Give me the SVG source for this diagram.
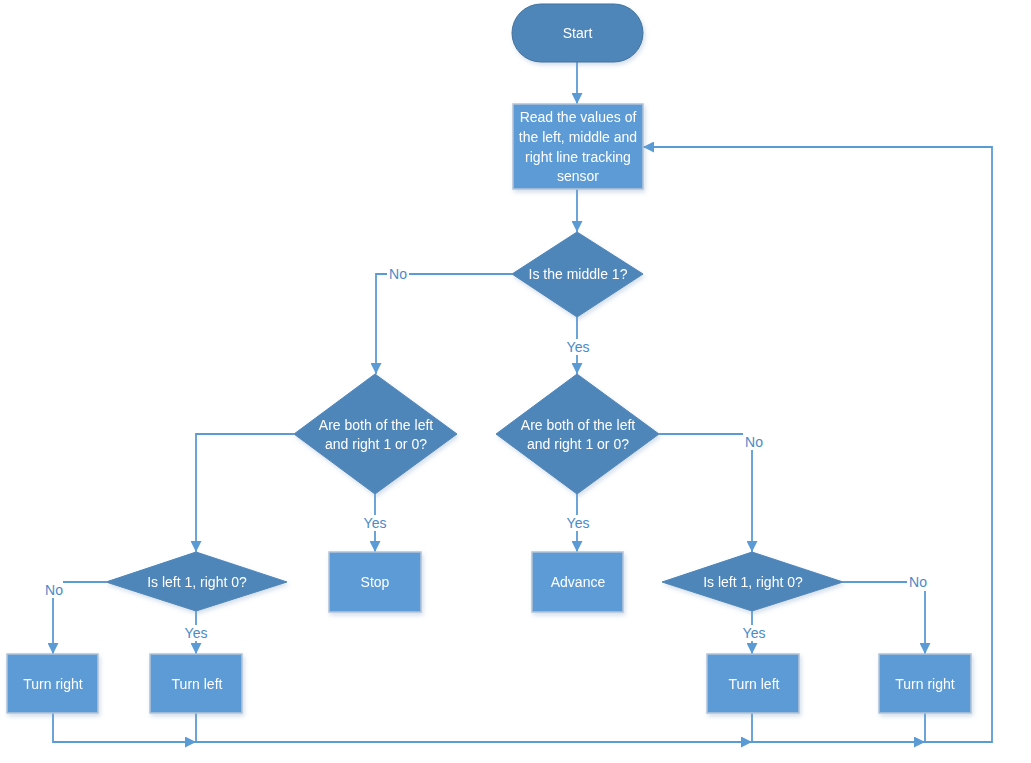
<svg xmlns="http://www.w3.org/2000/svg" width="1031" height="763" viewBox="0 0 1031 763">
<style>
.term{fill:#4f86ba;stroke:#41719c;stroke-width:1}
.dec{fill:#4f86ba;stroke:#4f86ba;stroke-width:1}
.proc{fill:#5b9bd5;stroke:#b4c4d6;stroke-width:1.5}
.t{font-family:"Liberation Sans",Arial,sans-serif;font-size:14px;fill:#ffffff;text-anchor:middle;dominant-baseline:central}
.lbl{font-family:"Liberation Sans",Arial,sans-serif;font-size:14px;fill:#4a8ac8;text-anchor:middle;dominant-baseline:central}
.c{fill:none;stroke:#5b9bd5;stroke-width:1.8}
.bg{fill:#ffffff}
</style>
<defs>
<marker id="ah" viewBox="0 0 10 10" refX="10" refY="5" markerWidth="11" markerHeight="11" markerUnits="userSpaceOnUse" orient="auto">
<path d="M0,0 L10,5 L0,10 Z" fill="#5b9bd5"/>
</marker>
<filter id="sh" x="-10%" y="-10%" width="130%" height="140%">
<feDropShadow dx="1.5" dy="2.5" stdDeviation="2" flood-color="#7f9fc0" flood-opacity="0.35"/>
</filter>
</defs>
<rect width="1031" height="763" fill="#ffffff"/>

<g id="connectors">
<path class="c" d="M577,62 V104" marker-end="url(#ah)"/>
<path class="c" d="M577,189 V232" marker-end="url(#ah)"/>
<path class="c" d="M512,274 H376 V374" marker-end="url(#ah)"/>
<path class="c" d="M577,317 V374" marker-end="url(#ah)"/>
<path class="c" d="M294,434 H196 V552" marker-end="url(#ah)"/>
<path class="c" d="M375,494 V552" marker-end="url(#ah)"/>
<path class="c" d="M577,494 V552" marker-end="url(#ah)"/>
<path class="c" d="M659,434 H752 V552" marker-end="url(#ah)"/>
<path class="c" d="M106,582 H53 V654" marker-end="url(#ah)"/>
<path class="c" d="M196,611 V654" marker-end="url(#ah)"/>
<path class="c" d="M843,582 H925 V654" marker-end="url(#ah)"/>
<path class="c" d="M752,611 V654" marker-end="url(#ah)"/>
<path class="c" d="M53,713 V742 H196" marker-end="url(#ah)"/>
<path class="c" d="M196,713 V742 H752" marker-end="url(#ah)"/>
<path class="c" d="M752,713 V742 H925" marker-end="url(#ah)"/>
<path class="c" d="M925,713 V742 H992 V147 H643" marker-end="url(#ah)"/>
<rect class="bg" x="387" y="266" width="22" height="16"/>
<text class="lbl" x="398" y="274">No</text>
<rect class="bg" x="564" y="339" width="28" height="16"/>
<text class="lbl" x="578" y="347">Yes</text>
<rect class="bg" x="362" y="515" width="28" height="16"/>
<text class="lbl" x="375" y="523">Yes</text>
<rect class="bg" x="564" y="515" width="28" height="16"/>
<text class="lbl" x="578" y="523">Yes</text>
<rect class="bg" x="743" y="433" width="22" height="17"/>
<text class="lbl" x="754" y="442">No</text>
<rect class="bg" x="40" y="576" width="23" height="22"/>
<text class="lbl" x="54" y="590">No</text>
<rect class="bg" x="182" y="625" width="28" height="16"/>
<text class="lbl" x="196" y="633">Yes</text>
<rect class="bg" x="740" y="625" width="28" height="16"/>
<text class="lbl" x="754" y="633">Yes</text>
<rect class="bg" x="907" y="574" width="22" height="17"/>
<text class="lbl" x="918" y="582">No</text>
</g>

<g id="start" filter="url(#sh)">
<rect class="term" x="512" y="4" width="131" height="58" rx="29" ry="29"/>
<text class="t" x="577.5" y="33">Start</text>
</g>
<g id="read" filter="url(#sh)">
<rect class="proc" x="513" y="104" width="130" height="85"/>
<text class="t" x="578" y="117">Read the values of</text>
<text class="t" x="578" y="137">the left, middle and</text>
<text class="t" x="578" y="157">right line tracking</text>
<text class="t" x="578" y="176">sensor</text>
</g>
<g id="middle" filter="url(#sh)">
<polygon class="dec" points="577,232 643,274 577,317 512,274"/>
<text class="t" x="578" y="274">Is the middle 1?</text>
</g>
<g id="both-left" filter="url(#sh)">
<polygon class="dec" points="375,374 457,434 375,494 294,434"/>
<text class="t" x="376" y="425">Are both of the  left</text>
<text class="t" x="376" y="444">and right 1 or 0?</text>
</g>
<g id="both-right" filter="url(#sh)">
<polygon class="dec" points="577,374 659,434 577,494 496,434"/>
<text class="t" x="578" y="425">Are both of the  left</text>
<text class="t" x="578" y="444">and right 1 or 0?</text>
</g>
<g id="stop" filter="url(#sh)">
<rect class="proc" x="329" y="552" width="92" height="60"/>
<text class="t" x="375" y="582">Stop</text>
</g>
<g id="advance" filter="url(#sh)">
<rect class="proc" x="532" y="552" width="91" height="60"/>
<text class="t" x="578" y="582">Advance</text>
</g>
<g id="dec-left" filter="url(#sh)">
<polygon class="dec" points="196,552 287,582 196,611 106,582"/>
<text class="t" x="197" y="582">Is left 1, right 0?</text>
</g>
<g id="dec-right" filter="url(#sh)">
<polygon class="dec" points="752,552 843,582 752,611 662,582"/>
<text class="t" x="753" y="582">Is left 1, right 0?</text>
</g>
<g id="turn-right-l" filter="url(#sh)">
<rect class="proc" x="7" y="654" width="91" height="59"/>
<text class="t" x="53" y="684">Turn right</text>
</g>
<g id="turn-left-l" filter="url(#sh)">
<rect class="proc" x="150" y="654" width="92" height="59"/>
<text class="t" x="197" y="684">Turn left</text>
</g>
<g id="turn-left-r" filter="url(#sh)">
<rect class="proc" x="707" y="654" width="92" height="59"/>
<text class="t" x="754" y="684">Turn left</text>
</g>
<g id="turn-right-r" filter="url(#sh)">
<rect class="proc" x="879" y="654" width="92" height="59"/>
<text class="t" x="925" y="684">Turn right</text>
</g>
</svg>
